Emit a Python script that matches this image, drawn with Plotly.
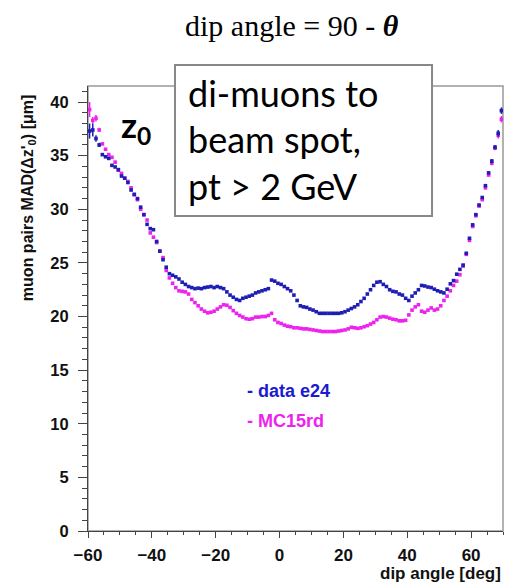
import plotly.graph_objects as go

# bin centres of the dip angle histogram [deg]
dip_angle = [a + 0.5 for a in range(-60, 70)]

# data e24 : MAD(dz0) [um]
data_e24 = [
    37.3, 37.4, 36.6, 36.0, 35.1, 34.9, 34.75, 34.1, 33.95, 33.7,
    33.1, 32.9, 32.5, 31.8, 31.4, 31.0, 30.2, 29.5, 28.6, 28.2,
    28.1, 27.0, 26.1, 25.3, 24.6, 24.0, 23.85, 23.7, 23.5, 23.2,
    23.0, 22.8, 22.7, 22.6, 22.65, 22.6, 22.7, 22.75, 22.8, 22.7,
    22.8, 22.7, 22.6, 22.3, 22.0, 21.8, 21.6, 21.5, 21.7, 21.8,
    21.9, 22.0, 22.2, 22.3, 22.4, 22.5, 22.6, 23.4, 23.3, 23.1,
    23.0, 22.8, 22.6, 22.4, 22.0, 21.5, 21.0, 20.9, 20.85, 20.7,
    20.6, 20.45, 20.3, 20.3, 20.3, 20.3, 20.3, 20.3, 20.3, 20.35,
    20.45, 20.6, 20.75, 20.9, 21.1, 21.4, 21.7, 22.1, 22.5, 22.9,
    23.2, 23.25, 23.0, 22.8, 22.5, 22.35, 22.3, 22.1, 22.0, 21.7,
    21.5, 21.9, 22.2, 22.5, 22.9, 22.85, 22.75, 22.7, 22.55, 22.4,
    22.3, 22.2, 22.55, 23.05, 23.35, 23.95, 24.4, 24.8, 25.9, 27.3,
    28.55, 29.5, 30.4, 31.1, 32.2, 33.4, 34.5, 35.8, 37.1, 39.2,
]

# MC15rd : MAD(dz0) [um]
mc15rd = [
    39.3, 38.3, 38.5, 37.4, 36.1, 35.6, 35.1, 34.85, 34.4, 33.65,
    33.35, 32.9, 32.6, 32.0, 31.35, 30.9, 30.0, 29.5, 29.0, 27.8,
    27.4, 26.9, 26.1, 25.5, 24.3, 23.6, 23.1, 22.7, 22.4, 22.35,
    22.3, 22.1, 21.6, 21.3, 21.0, 20.7, 20.5, 20.35, 20.4, 20.5,
    20.7, 20.9, 21.1, 21.05, 20.85, 20.55, 20.3, 20.1, 19.95, 19.8,
    19.75, 19.8, 19.95, 19.95, 20.0, 20.0, 20.1, 20.3, 19.7, 19.45,
    19.35, 19.2, 19.1, 19.05, 18.95, 18.95, 18.9, 18.85, 18.85, 18.8,
    18.75, 18.7, 18.65, 18.6, 18.6, 18.6, 18.6, 18.6, 18.65, 18.7,
    18.75, 18.85, 19.0, 18.95, 18.9, 18.95, 19.05, 19.15, 19.3, 19.45,
    19.7, 19.95, 20.0, 19.95, 19.85, 19.75, 19.7, 19.6, 19.6, 19.65,
    20.15, 20.6, 20.9, 21.1, 20.5, 20.4, 20.6, 20.8, 20.6, 20.7,
    21.0, 21.5, 21.9, 22.4, 22.9, 23.3, 23.9, 24.7, 25.8, 27.1,
    28.4, 29.4, 30.3, 30.9, 32.0, 33.2, 34.3, 35.7, 36.9, 38.4,
]

# statistical uncertainties (only visible at the edges)
data_err = [0.7, 0.6, 0.3, 0.2] + [0.0] * 122 + [0.2, 0.2, 0.3, 0.3]
mc_err = [0.7, 0.3, 0.3, 0.2] + [0.0] * 122 + [0.2, 0.2, 0.3, 0.3]

BLUE = "#1e1eb4"
MAGENTA = "#ee22ee"

fig = go.Figure()
fig.add_trace(go.Scatter(
    x=dip_angle, y=mc15rd, mode="markers",
    marker=dict(symbol="square", size=3.6, color=MAGENTA, line=dict(width=0)),
    error_y=dict(type="data", array=mc_err, color=MAGENTA, thickness=1.5, width=0),
    name="MC15rd", showlegend=False,
))
fig.add_trace(go.Scatter(
    x=dip_angle, y=data_e24, mode="markers",
    marker=dict(symbol="square", size=3.6, color=BLUE, line=dict(width=0)),
    error_y=dict(type="data", array=data_err, color=BLUE, thickness=1.5, width=0),
    name="data e24", showlegend=False,
))

tickfont = dict(family="Liberation Sans", size=17, color="#111", weight="bold")

fig.update_layout(
    width=509, height=583,
    margin=dict(l=88, r=6, t=86, b=52, pad=0),
    paper_bgcolor="white", plot_bgcolor="white",
    xaxis=dict(
        range=[-60, 70], tickvals=[-60, -40, -20, 0, 20, 40, 60],
        ticks="outside", ticklen=6, tickwidth=1, tickcolor="#444",
        minor=dict(dtick=5, tick0=0, ticks="outside", ticklen=3, tickcolor="#444"),
        showline=True, linecolor="#444", linewidth=1, mirror=False,
        showgrid=False, zeroline=False, tickfont=tickfont, ticklabelstandoff=3,
    ),
    yaxis=dict(
        range=[0, 41.5], tickvals=[0, 5, 10, 15, 20, 25, 30, 35, 40],
        ticks="outside", ticklen=9, tickwidth=1, tickcolor="#444",
        minor=dict(dtick=1, tick0=0, ticks="outside", ticklen=5, tickcolor="#444"),
        showline=True, linecolor="#444", linewidth=1, mirror=False,
        showgrid=False, zeroline=False,
        tickfont=dict(family="Liberation Sans", size=16.5, color="#111", weight="bold"),
        ticklabelstandoff=6,
    ),
    shapes=[
        dict(type="rect", xref="paper", yref="paper", x0=0, x1=1, y0=0, y1=1,
             line=dict(color="#999", width=1.5), fillcolor="rgba(0,0,0,0)", layer="below"),
        dict(type="rect", xref="paper", yref="paper", x0=0.2096, x1=0.829, y0=0.7079, y1=1.0472,
             line=dict(color="#888", width=2), fillcolor="white", layer="above"),
    ],
)

ann = []
ann.append(dict(text="dip angle = 90 - <b><i>θ</i></b>", xref="paper", yref="paper",
                x=0.4916, y=1.137, xanchor="center", yanchor="middle", showarrow=False,
                font=dict(family="Liberation Serif", size=30, color="black")))
ann.append(dict(text="muon pairs MAD(Δz'<sub>0</sub>) [μm]", xref="paper", yref="paper",
                x=-0.1446, y=0.748, xanchor="center", yanchor="middle", textangle=-90,
                showarrow=False, font=dict(family="Liberation Sans", size=16, color="#111", weight="bold")))
ann.append(dict(text="dip angle [deg]", xref="paper", yref="paper",
                x=1.0, y=-0.0966, xanchor="right", yanchor="middle", showarrow=False,
                font=dict(family="Liberation Sans", size=17, color="#111", weight="bold")))
ann.append(dict(text="z<sub>0</sub>", xref="paper", yref="paper",
                x=0.1157, y=0.908, xanchor="center", yanchor="middle", showarrow=False,
                font=dict(family="Lato", size=35, color="black", weight="bold")))
for txt, yy in [("di-muons to", 0.9849), ("beam spot,", 0.8802), ("pt &gt; 2 GeV", 0.7759)]:
    ann.append(dict(text=txt, xref="paper", yref="paper", x=0.236, y=yy,
                    xanchor="left", yanchor="middle", showarrow=False,
                    font=dict(family="Lato", size=36, color="black")))
ann.append(dict(text="- data e24", xref="paper", yref="paper", x=0.378, y=0.3146,
                xanchor="left", yanchor="middle", showarrow=False,
                font=dict(family="Liberation Sans", size=18, color="#1a1ad0", weight="bold")))
ann.append(dict(text="- MC15rd", xref="paper", yref="paper", x=0.378, y=0.2472,
                xanchor="left", yanchor="middle", showarrow=False,
                font=dict(family="Liberation Sans", size=18, color=MAGENTA, weight="bold")))
fig.update_layout(annotations=ann)

fig.write_html("out.html")
